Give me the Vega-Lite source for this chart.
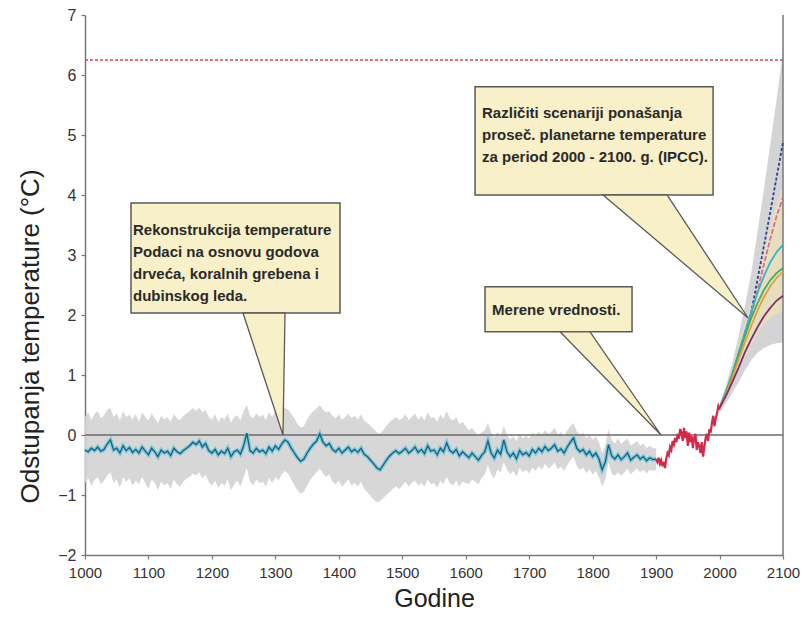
{
"$schema":"https://vega.github.io/schema/vega-lite/v6.json",
"width":698,"height":540,
"autosize":{"type":"none"},
"padding":{"left":85,"top":15,"right":21,"bottom":62},
"background":"white",
"config":{"view":{"stroke":null},
"axis":{"grid":false,"domainColor":"#777","domainWidth":1.5,"tickColor":"#777","tickWidth":1.2,"tickSize":4,"labelFont":"Liberation Sans","labelFontSize":15,"labelColor":"#333","titleFont":"Liberation Sans","titleFontWeight":"normal","titleColor":"#222"}},
"datasets":{
"recon":[
{"yr":1000,"v":-0.25,"lo":-0.80,"hi":0.30},{"yr":1005,"v":-0.28,"lo":-0.72,"hi":0.38},{"yr":1010,"v":-0.22,"lo":-0.85,"hi":0.25},{"yr":1015,"v":-0.26,"lo":-0.75,"hi":0.35},{"yr":1020,"v":-0.20,"lo":-0.70,"hi":0.40},{"yr":1025,"v":-0.27,"lo":-0.82,"hi":0.28},{"yr":1030,"v":-0.24,"lo":-0.76,"hi":0.33},{"yr":1035,"v":-0.15,"lo":-0.68,"hi":0.42},{"yr":1040,"v":-0.08,"lo":-0.62,"hi":0.45},{"yr":1045,"v":-0.25,"lo":-0.80,"hi":0.30},
{"yr":1050,"v":-0.22,"lo":-0.74,"hi":0.36},{"yr":1055,"v":-0.30,"lo":-0.88,"hi":0.24},{"yr":1060,"v":-0.18,"lo":-0.70,"hi":0.40},{"yr":1065,"v":-0.26,"lo":-0.78,"hi":0.30},{"yr":1070,"v":-0.21,"lo":-0.72,"hi":0.34},{"yr":1075,"v":-0.29,"lo":-0.85,"hi":0.26},{"yr":1080,"v":-0.24,"lo":-0.76,"hi":0.35},{"yr":1085,"v":-0.30,"lo":-0.82,"hi":0.22},{"yr":1090,"v":-0.20,"lo":-0.70,"hi":0.38},{"yr":1095,"v":-0.27,"lo":-0.80,"hi":0.30},
{"yr":1100,"v":-0.33,"lo":-0.90,"hi":0.24},{"yr":1105,"v":-0.22,"lo":-0.74,"hi":0.36},{"yr":1110,"v":-0.28,"lo":-0.80,"hi":0.28},{"yr":1115,"v":-0.36,"lo":-0.92,"hi":0.20},{"yr":1120,"v":-0.25,"lo":-0.78,"hi":0.32},{"yr":1125,"v":-0.30,"lo":-0.84,"hi":0.26},{"yr":1130,"v":-0.27,"lo":-0.80,"hi":0.30},{"yr":1135,"v":-0.34,"lo":-0.90,"hi":0.22},{"yr":1140,"v":-0.22,"lo":-0.74,"hi":0.35},{"yr":1145,"v":-0.28,"lo":-0.82,"hi":0.28},
{"yr":1150,"v":-0.31,"lo":-0.86,"hi":0.25},{"yr":1155,"v":-0.26,"lo":-0.78,"hi":0.32},{"yr":1160,"v":-0.22,"lo":-0.72,"hi":0.36},{"yr":1165,"v":-0.18,"lo":-0.70,"hi":0.40},{"yr":1170,"v":-0.12,"lo":-0.64,"hi":0.45},{"yr":1175,"v":-0.16,"lo":-0.68,"hi":0.40},{"yr":1180,"v":-0.10,"lo":-0.62,"hi":0.46},{"yr":1185,"v":-0.20,"lo":-0.72,"hi":0.38},{"yr":1190,"v":-0.14,"lo":-0.66,"hi":0.42},{"yr":1195,"v":-0.26,"lo":-0.78,"hi":0.30},
{"yr":1200,"v":-0.30,"lo":-0.85,"hi":0.26},{"yr":1205,"v":-0.24,"lo":-0.76,"hi":0.34},{"yr":1210,"v":-0.33,"lo":-0.88,"hi":0.22},{"yr":1215,"v":-0.27,"lo":-0.80,"hi":0.30},{"yr":1220,"v":-0.31,"lo":-0.84,"hi":0.26},{"yr":1225,"v":-0.22,"lo":-0.74,"hi":0.36},{"yr":1230,"v":-0.36,"lo":-0.92,"hi":0.20},{"yr":1235,"v":-0.28,"lo":-0.82,"hi":0.30},{"yr":1240,"v":-0.25,"lo":-0.76,"hi":0.33},{"yr":1245,"v":-0.32,"lo":-0.86,"hi":0.24},
{"yr":1250,"v":-0.18,"lo":-0.70,"hi":0.40},{"yr":1255,"v":0.03,"lo":-0.55,"hi":0.50},{"yr":1260,"v":-0.26,"lo":-0.78,"hi":0.32},{"yr":1265,"v":-0.30,"lo":-0.84,"hi":0.28},{"yr":1270,"v":-0.22,"lo":-0.74,"hi":0.36},{"yr":1275,"v":-0.28,"lo":-0.80,"hi":0.30},{"yr":1280,"v":-0.25,"lo":-0.78,"hi":0.34},{"yr":1285,"v":-0.31,"lo":-0.86,"hi":0.25},{"yr":1290,"v":-0.20,"lo":-0.72,"hi":0.38},{"yr":1295,"v":-0.27,"lo":-0.80,"hi":0.30},
{"yr":1300,"v":-0.18,"lo":-0.70,"hi":0.40},{"yr":1305,"v":-0.24,"lo":-0.76,"hi":0.35},{"yr":1310,"v":-0.15,"lo":-0.66,"hi":0.42},{"yr":1315,"v":-0.08,"lo":-0.60,"hi":0.46},{"yr":1320,"v":-0.12,"lo":-0.64,"hi":0.42},{"yr":1325,"v":-0.22,"lo":-0.74,"hi":0.36},{"yr":1330,"v":-0.30,"lo":-0.84,"hi":0.28},{"yr":1335,"v":-0.38,"lo":-0.92,"hi":0.18},{"yr":1340,"v":-0.44,"lo":-0.98,"hi":0.12},{"yr":1345,"v":-0.40,"lo":-0.94,"hi":0.15},
{"yr":1350,"v":-0.30,"lo":-0.84,"hi":0.26},{"yr":1355,"v":-0.22,"lo":-0.75,"hi":0.34},{"yr":1360,"v":-0.15,"lo":-0.68,"hi":0.40},{"yr":1365,"v":-0.10,"lo":-0.62,"hi":0.44},{"yr":1370,"v":0.02,"lo":-0.56,"hi":0.50},{"yr":1375,"v":-0.12,"lo":-0.64,"hi":0.42},{"yr":1380,"v":-0.18,"lo":-0.70,"hi":0.38},{"yr":1385,"v":-0.14,"lo":-0.66,"hi":0.40},{"yr":1390,"v":-0.24,"lo":-0.78,"hi":0.32},{"yr":1395,"v":-0.28,"lo":-0.82,"hi":0.28},
{"yr":1400,"v":-0.22,"lo":-0.76,"hi":0.34},{"yr":1405,"v":-0.30,"lo":-0.86,"hi":0.26},{"yr":1410,"v":-0.25,"lo":-0.80,"hi":0.30},{"yr":1415,"v":-0.20,"lo":-0.74,"hi":0.36},{"yr":1420,"v":-0.28,"lo":-0.84,"hi":0.28},{"yr":1425,"v":-0.24,"lo":-0.80,"hi":0.32},{"yr":1430,"v":-0.29,"lo":-0.86,"hi":0.26},{"yr":1435,"v":-0.22,"lo":-0.78,"hi":0.34},{"yr":1440,"v":-0.32,"lo":-0.90,"hi":0.24},{"yr":1445,"v":-0.36,"lo":-0.95,"hi":0.20},
{"yr":1450,"v":-0.42,"lo":-1.02,"hi":0.15},{"yr":1455,"v":-0.48,"lo":-1.08,"hi":0.10},{"yr":1460,"v":-0.55,"lo":-1.12,"hi":0.04},{"yr":1465,"v":-0.58,"lo":-1.10,"hi":0.02},{"yr":1470,"v":-0.50,"lo":-1.05,"hi":0.08},{"yr":1475,"v":-0.42,"lo":-1.00,"hi":0.15},{"yr":1480,"v":-0.35,"lo":-0.95,"hi":0.22},{"yr":1485,"v":-0.30,"lo":-0.90,"hi":0.26},{"yr":1490,"v":-0.26,"lo":-0.86,"hi":0.30},{"yr":1495,"v":-0.31,"lo":-0.90,"hi":0.25},
{"yr":1500,"v":-0.27,"lo":-0.84,"hi":0.28},{"yr":1505,"v":-0.22,"lo":-0.78,"hi":0.34},{"yr":1510,"v":-0.30,"lo":-0.86,"hi":0.25},{"yr":1515,"v":-0.26,"lo":-0.80,"hi":0.30},{"yr":1520,"v":-0.20,"lo":-0.76,"hi":0.36},{"yr":1525,"v":-0.29,"lo":-0.84,"hi":0.26},{"yr":1530,"v":-0.24,"lo":-0.80,"hi":0.32},{"yr":1535,"v":-0.31,"lo":-0.86,"hi":0.24},{"yr":1540,"v":-0.18,"lo":-0.74,"hi":0.38},{"yr":1545,"v":-0.27,"lo":-0.82,"hi":0.28},
{"yr":1550,"v":-0.25,"lo":-0.80,"hi":0.30},{"yr":1555,"v":-0.33,"lo":-0.88,"hi":0.22},{"yr":1560,"v":-0.22,"lo":-0.76,"hi":0.34},{"yr":1565,"v":-0.28,"lo":-0.82,"hi":0.27},{"yr":1570,"v":-0.13,"lo":-0.70,"hi":0.40},{"yr":1575,"v":-0.26,"lo":-0.80,"hi":0.28},{"yr":1580,"v":-0.30,"lo":-0.84,"hi":0.24},{"yr":1585,"v":-0.24,"lo":-0.76,"hi":0.30},{"yr":1590,"v":-0.35,"lo":-0.86,"hi":0.18},{"yr":1595,"v":-0.28,"lo":-0.78,"hi":0.22},
{"yr":1600,"v":-0.33,"lo":-0.80,"hi":0.15},{"yr":1605,"v":-0.38,"lo":-0.82,"hi":0.08},{"yr":1610,"v":-0.30,"lo":-0.74,"hi":0.12},{"yr":1615,"v":-0.36,"lo":-0.78,"hi":0.05},{"yr":1620,"v":-0.42,"lo":-0.82,"hi":0.00},{"yr":1625,"v":-0.34,"lo":-0.72,"hi":0.04},{"yr":1630,"v":-0.28,"lo":-0.66,"hi":0.08},{"yr":1635,"v":-0.10,"lo":-0.50,"hi":0.20},{"yr":1640,"v":-0.30,"lo":-0.66,"hi":0.04},{"yr":1645,"v":-0.38,"lo":-0.72,"hi":-0.04},
{"yr":1650,"v":-0.25,"lo":-0.58,"hi":0.05},{"yr":1655,"v":-0.32,"lo":-0.62,"hi":-0.02},{"yr":1660,"v":-0.08,"lo":-0.45,"hi":0.15},{"yr":1665,"v":-0.28,"lo":-0.58,"hi":0.00},{"yr":1670,"v":-0.36,"lo":-0.65,"hi":-0.08},{"yr":1675,"v":-0.30,"lo":-0.60,"hi":-0.02},{"yr":1680,"v":-0.40,"lo":-0.70,"hi":-0.10},{"yr":1685,"v":-0.26,"lo":-0.55,"hi":0.02},{"yr":1690,"v":-0.33,"lo":-0.62,"hi":-0.05},{"yr":1695,"v":-0.29,"lo":-0.58,"hi":-0.01},
{"yr":1700,"v":-0.35,"lo":-0.64,"hi":-0.06},{"yr":1705,"v":-0.24,"lo":-0.54,"hi":0.04},{"yr":1710,"v":-0.30,"lo":-0.60,"hi":-0.02},{"yr":1715,"v":-0.22,"lo":-0.52,"hi":0.06},{"yr":1720,"v":-0.28,"lo":-0.58,"hi":0.00},{"yr":1725,"v":-0.19,"lo":-0.48,"hi":0.08},{"yr":1730,"v":-0.26,"lo":-0.56,"hi":0.02},{"yr":1735,"v":-0.22,"lo":-0.52,"hi":0.06},{"yr":1740,"v":-0.16,"lo":-0.46,"hi":0.12},{"yr":1745,"v":-0.27,"lo":-0.57,"hi":0.01},
{"yr":1750,"v":-0.23,"lo":-0.53,"hi":0.05},{"yr":1755,"v":-0.30,"lo":-0.60,"hi":-0.02},{"yr":1760,"v":-0.20,"lo":-0.50,"hi":0.08},{"yr":1765,"v":-0.12,"lo":-0.42,"hi":0.15},{"yr":1770,"v":-0.05,"lo":-0.36,"hi":0.20},{"yr":1775,"v":-0.22,"lo":-0.52,"hi":0.06},{"yr":1780,"v":-0.28,"lo":-0.58,"hi":0.00},{"yr":1785,"v":-0.24,"lo":-0.54,"hi":0.04},{"yr":1790,"v":-0.33,"lo":-0.63,"hi":-0.05},{"yr":1795,"v":-0.27,"lo":-0.57,"hi":0.01},
{"yr":1800,"v":-0.36,"lo":-0.66,"hi":-0.08},{"yr":1805,"v":-0.30,"lo":-0.60,"hi":-0.02},{"yr":1810,"v":-0.40,"lo":-0.70,"hi":-0.12},{"yr":1815,"v":-0.58,"lo":-0.86,"hi":-0.30},{"yr":1820,"v":-0.45,"lo":-0.74,"hi":-0.18},{"yr":1825,"v":-0.16,"lo":-0.46,"hi":0.10},{"yr":1830,"v":-0.35,"lo":-0.64,"hi":-0.08},{"yr":1835,"v":-0.40,"lo":-0.68,"hi":-0.14},{"yr":1840,"v":-0.33,"lo":-0.62,"hi":-0.06},{"yr":1845,"v":-0.41,"lo":-0.68,"hi":-0.15},
{"yr":1850,"v":-0.36,"lo":-0.62,"hi":-0.10},{"yr":1855,"v":-0.30,"lo":-0.56,"hi":-0.06},{"yr":1860,"v":-0.42,"lo":-0.66,"hi":-0.18},{"yr":1865,"v":-0.37,"lo":-0.60,"hi":-0.14},{"yr":1870,"v":-0.33,"lo":-0.56,"hi":-0.10},{"yr":1875,"v":-0.40,"lo":-0.62,"hi":-0.18},{"yr":1880,"v":-0.36,"lo":-0.58,"hi":-0.14},{"yr":1885,"v":-0.43,"lo":-0.64,"hi":-0.22},{"yr":1890,"v":-0.38,"lo":-0.58,"hi":-0.18},{"yr":1895,"v":-0.41,"lo":-0.60,"hi":-0.22},
{"yr":1900,"v":-0.40,"lo":-0.58,"hi":-0.22}
],
"measured":[
{"yr":1900,"v":-0.40},{"yr":1902,"v":-0.45},{"yr":1904,"v":-0.38},{"yr":1906,"v":-0.48},{"yr":1908,"v":-0.42},{"yr":1910,"v":-0.52},{"yr":1912,"v":-0.45},{"yr":1914,"v":-0.55},{"yr":1916,"v":-0.40},{"yr":1918,"v":-0.30},{"yr":1920,"v":-0.34},{"yr":1922,"v":-0.20},{"yr":1924,"v":-0.25},{"yr":1926,"v":-0.10},{"yr":1928,"v":-0.16},{"yr":1930,"v":-0.05},{"yr":1932,"v":-0.12},{"yr":1934,"v":0.02},{"yr":1936,"v":-0.06},{"yr":1938,"v":0.10},{"yr":1940,"v":0.04},{"yr":1942,"v":-0.10},{"yr":1944,"v":0.12},{"yr":1946,"v":-0.05},{"yr":1948,"v":0.06},{"yr":1950,"v":-0.18},{"yr":1952,"v":0.04},{"yr":1954,"v":-0.12},{"yr":1956,"v":-0.02},{"yr":1958,"v":-0.22},{"yr":1960,"v":-0.05},{"yr":1962,"v":0.02},{"yr":1964,"v":-0.25},{"yr":1966,"v":-0.12},{"yr":1968,"v":-0.18},{"yr":1970,"v":-0.30},{"yr":1972,"v":-0.12},{"yr":1974,"v":-0.36},{"yr":1976,"v":-0.20},{"yr":1978,"v":-0.05},{"yr":1980,"v":0.02},{"yr":1982,"v":-0.10},{"yr":1984,"v":0.10},{"yr":1986,"v":0.04},{"yr":1988,"v":0.20},{"yr":1990,"v":0.32},{"yr":1992,"v":0.15},{"yr":1994,"v":0.28},{"yr":1996,"v":0.36},{"yr":1998,"v":0.48},{"yr":2000,"v":0.42}
],
"proj":[
{"s":"A1FI","yr":2000,"v":0.45},{"s":"A1FI","yr":2010,"v":0.70},{"s":"A1FI","yr":2020,"v":1.00},{"s":"A1FI","yr":2030,"v":1.35},{"s":"A1FI","yr":2040,"v":1.70},{"s":"A1FI","yr":2050,"v":2.05},{"s":"A1FI","yr":2060,"v":2.60},{"s":"A1FI","yr":2070,"v":3.15},{"s":"A1FI","yr":2080,"v":3.72},{"s":"A1FI","yr":2090,"v":4.30},{"s":"A1FI","yr":2100,"v":4.88},
{"s":"A2","yr":2000,"v":0.45},{"s":"A2","yr":2010,"v":0.70},{"s":"A2","yr":2020,"v":1.00},{"s":"A2","yr":2030,"v":1.33},{"s":"A2","yr":2040,"v":1.68},{"s":"A2","yr":2050,"v":2.00},{"s":"A2","yr":2060,"v":2.42},{"s":"A2","yr":2070,"v":2.85},{"s":"A2","yr":2080,"v":3.27},{"s":"A2","yr":2090,"v":3.65},{"s":"A2","yr":2100,"v":3.96},
{"s":"A1B","yr":2000,"v":0.45},{"s":"A1B","yr":2010,"v":0.72},{"s":"A1B","yr":2020,"v":1.02},{"s":"A1B","yr":2030,"v":1.37},{"s":"A1B","yr":2040,"v":1.72},{"s":"A1B","yr":2050,"v":2.05},{"s":"A1B","yr":2060,"v":2.38},{"s":"A1B","yr":2070,"v":2.65},{"s":"A1B","yr":2080,"v":2.88},{"s":"A1B","yr":2090,"v":3.05},{"s":"A1B","yr":2100,"v":3.17},
{"s":"B2","yr":2000,"v":0.45},{"s":"B2","yr":2010,"v":0.70},{"s":"B2","yr":2020,"v":1.00},{"s":"B2","yr":2030,"v":1.33},{"s":"B2","yr":2040,"v":1.65},{"s":"B2","yr":2050,"v":1.95},{"s":"B2","yr":2060,"v":2.20},{"s":"B2","yr":2070,"v":2.42},{"s":"B2","yr":2080,"v":2.58},{"s":"B2","yr":2090,"v":2.70},{"s":"B2","yr":2100,"v":2.78},
{"s":"A1T","yr":2000,"v":0.45},{"s":"A1T","yr":2010,"v":0.68},{"s":"A1T","yr":2020,"v":0.95},{"s":"A1T","yr":2030,"v":1.25},{"s":"A1T","yr":2040,"v":1.55},{"s":"A1T","yr":2050,"v":1.82},{"s":"A1T","yr":2060,"v":2.08},{"s":"A1T","yr":2070,"v":2.30},{"s":"A1T","yr":2080,"v":2.48},{"s":"A1T","yr":2090,"v":2.62},{"s":"A1T","yr":2100,"v":2.72},
{"s":"B1","yr":2000,"v":0.45},{"s":"B1","yr":2010,"v":0.65},{"s":"B1","yr":2020,"v":0.88},{"s":"B1","yr":2030,"v":1.12},{"s":"B1","yr":2040,"v":1.38},{"s":"B1","yr":2050,"v":1.60},{"s":"B1","yr":2060,"v":1.80},{"s":"B1","yr":2070,"v":1.98},{"s":"B1","yr":2080,"v":2.12},{"s":"B1","yr":2090,"v":2.24},{"s":"B1","yr":2100,"v":2.32}
],
"projband":[
{"yr":2000,"lo":0.38,"hi":0.52},{"yr":2010,"lo":0.52,"hi":0.82},{"yr":2020,"lo":0.70,"hi":1.20},{"yr":2030,"lo":0.88,"hi":1.65},{"yr":2040,"lo":1.08,"hi":2.15},{"yr":2050,"lo":1.25,"hi":2.70},{"yr":2060,"lo":1.37,"hi":3.40},{"yr":2070,"lo":1.45,"hi":4.10},{"yr":2080,"lo":1.50,"hi":4.85},{"yr":2090,"lo":1.53,"hi":5.60},{"yr":2100,"lo":1.54,"hi":6.40}
],
"tanband":[
{"yr":2030,"lo":1.10,"hi":1.50},{"yr":2040,"lo":1.30,"hi":1.85},{"yr":2050,"lo":1.50,"hi":2.20},{"yr":2060,"lo":1.70,"hi":2.65},{"yr":2070,"lo":1.85,"hi":3.10},{"yr":2080,"lo":1.95,"hi":3.50},{"yr":2090,"lo":2.02,"hi":3.85},{"yr":2100,"lo":2.06,"hi":4.15}
],
"boxes":[
{"id":"a","yr":1072.5,"yr2":1401.9,"lo":2.033,"hi":3.867},
{"id":"b","yr":1630.4,"yr2":1862.1,"lo":1.72,"hi":2.47},
{"id":"c","yr":1614.7,"yr2":1989.8,"lo":4.0,"hi":5.805}
],
"pointers":[
{"id":"a","yr":1249,"lo":2.033,"hi":2.033},{"id":"a","yr":1312,"lo":0.0,"hi":2.033},{"id":"a","yr":1315.2,"lo":2.033,"hi":2.033},
{"id":"b","yr":1748.6,"lo":1.72,"hi":1.72},{"id":"b","yr":1795.9,"lo":1.209,"hi":1.72},{"id":"b","yr":1907.8,"lo":0.0,"hi":0.0},
{"id":"c","yr":1816.4,"lo":4.0,"hi":4.0},{"id":"c","yr":1917.3,"lo":3.095,"hi":4.0},{"id":"c","yr":2045,"lo":1.95,"hi":1.95}
],
"texts":[
{"yr":1075.6,"v":3.333,"txt":"Rekonstrukcija temperature\nPodaci na osnovu godova\ndrveća, koralnih grebena i\ndubinskog leda."},
{"yr":1641.5,"v":2.0,"txt":"Merene vrednosti."},
{"yr":1625.7,"v":5.283,"txt":"Različiti scenariji ponašanja\nproseč. planetarne temperature\nza period 2000 - 2100. g. (IPCC)."}
],
"zero":[{"yr":1000,"yr2":2100,"v":0}],
"limit":[{"yr":1000,"yr2":2100,"v":6.25}],
"vrule":[{"yr":2100,"lo":-2,"hi":7}]
},
"layer":[
{"data":{"name":"recon"},"mark":{"type":"area","color":"#d3d3d3","opacity":0.9},
 "encoding":{
  "x":{"field":"yr","type":"quantitative","title":"Godine","scale":{"domain":[1000,2100],"nice":false,"zero":false},
   "axis":{"values":[1000,1050,1100,1150,1200,1250,1300,1350,1400,1450,1500,1550,1600,1650,1700,1750,1800,1850,1900,1950,2000,2050,2100],"format":"d","labelExpr":"datum.value % 100 === 0 ? datum.label : ''","labelOverlap":false,"labelFlush":false,"labelPadding":6,"titleFontSize":25,"titlePadding":6}},
  "y":{"field":"lo","type":"quantitative","title":"Odstupanja temperature  (°C)","scale":{"domain":[-2,7],"nice":false,"zero":false},
   "axis":{"values":[-2,-1,0,1,2,3,4,5,6,7],"format":"d","labelPadding":5,"labelFontSize":16,"titleFontSize":26,"titleY":321,"titleX":-68,"titleBaseline":"top"}},
  "y2":{"field":"hi"}}},
{"data":{"name":"projband"},"mark":{"type":"area","color":"#cfcfd2","opacity":0.9},
 "encoding":{"x":{"field":"yr","type":"quantitative","title":"Godine"},"y":{"field":"lo","type":"quantitative","title":"Odstupanja temperature  (°C)"},"y2":{"field":"hi"}}},
{"data":{"name":"tanband"},"mark":{"type":"area","color":"#efe3b4","opacity":0.7},
 "encoding":{"x":{"field":"yr","type":"quantitative","title":"Godine"},"y":{"field":"lo","type":"quantitative","title":"Odstupanja temperature  (°C)"},"y2":{"field":"hi"}}},
{"data":{"name":"zero"},"mark":{"type":"rule","color":"#6a6a6a","strokeWidth":1.6},
 "encoding":{"x":{"field":"yr","type":"quantitative","title":"Godine"},"x2":{"field":"yr2"},"y":{"field":"v","type":"quantitative","title":"Odstupanja temperature  (°C)"}}},
{"data":{"name":"limit"},"mark":{"type":"rule","color":"#d9475a","strokeWidth":1.4,"strokeDash":[3,2]},
 "encoding":{"x":{"field":"yr","type":"quantitative","title":"Godine"},"x2":{"field":"yr2"},"y":{"field":"v","type":"quantitative","title":"Odstupanja temperature  (°C)"}}},
{"data":{"name":"vrule"},"mark":{"type":"rule","color":"#777","strokeWidth":1.5},
 "encoding":{"x":{"field":"yr","type":"quantitative","title":"Godine"},"y":{"field":"lo","type":"quantitative","title":"Odstupanja temperature  (°C)"},"y2":{"field":"hi"}}},
{"data":{"name":"recon"},"mark":{"type":"line","color":"#5cc3dc","strokeWidth":4,"opacity":0.75},
 "encoding":{"x":{"field":"yr","type":"quantitative","title":"Godine"},"y":{"field":"v","type":"quantitative","title":"Odstupanja temperature  (°C)"}}},
{"data":{"name":"recon"},"mark":{"type":"line","color":"#1f5c78","strokeWidth":1.3},
 "encoding":{"x":{"field":"yr","type":"quantitative","title":"Godine"},"y":{"field":"v","type":"quantitative","title":"Odstupanja temperature  (°C)"}}},
{"data":{"name":"measured"},"mark":{"type":"line","color":"#d42a4a","strokeWidth":2.2},
 "encoding":{"x":{"field":"yr","type":"quantitative","title":"Godine"},"y":{"field":"v","type":"quantitative","title":"Odstupanja temperature  (°C)"}}},
{"data":{"name":"proj"},"mark":{"type":"line","strokeWidth":1.8},
 "encoding":{"x":{"field":"yr","type":"quantitative","title":"Godine"},"y":{"field":"v","type":"quantitative","title":"Odstupanja temperature  (°C)"},
  "color":{"field":"s","type":"nominal","scale":{"domain":["A1FI","A2","A1B","B2","A1T","B1"],"range":["#2d3f8f","#d0709a","#36b3cf","#4bab5a","#e0a040","#7b2e6e"]},"legend":null},
  "strokeDash":{"field":"s","type":"nominal","scale":{"domain":["A1FI","A2","A1B","B2","A1T","B1"],"range":[[3,2],[5,2],[1,0],[1,0],[1,0],[1,0]]},"legend":null}}},
{"data":{"name":"boxes"},"mark":{"type":"rect","fill":"#f8f0c8","stroke":"#5a5a5a","strokeWidth":1.5},
 "encoding":{"x":{"field":"yr","type":"quantitative","title":"Godine"},"x2":{"field":"yr2"},"y":{"field":"lo","type":"quantitative","title":"Odstupanja temperature  (°C)"},"y2":{"field":"hi"}}},
{"data":{"name":"pointers"},"mark":{"type":"area","fill":"#f8f0c8","stroke":"#5a5a5a","strokeWidth":1.3},
 "encoding":{"x":{"field":"yr","type":"quantitative","title":"Godine"},"y":{"field":"lo","type":"quantitative","title":"Odstupanja temperature  (°C)"},"y2":{"field":"hi"},"detail":{"field":"id","type":"nominal"}}},
{"data":{"name":"texts"},"mark":{"type":"text","align":"left","baseline":"alphabetic","font":"Liberation Sans","fontWeight":"bold","fontSize":15,"lineHeight":22,"lineBreak":"\n","color":"#2a2a2a"},
 "encoding":{"x":{"field":"yr","type":"quantitative","title":"Godine"},"y":{"field":"v","type":"quantitative","title":"Odstupanja temperature  (°C)"},"text":{"field":"txt","type":"nominal"}}}
]
}
